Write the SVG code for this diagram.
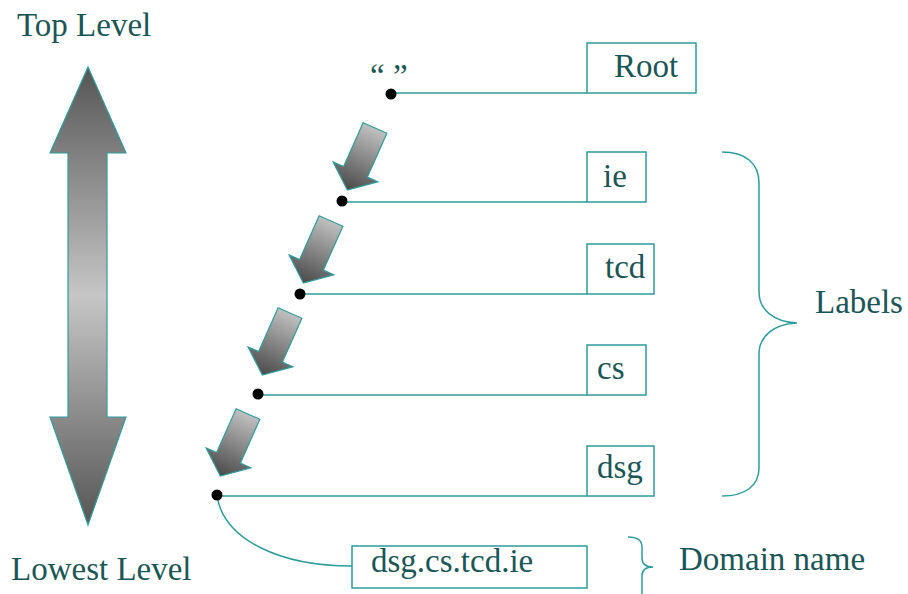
<svg xmlns="http://www.w3.org/2000/svg" width="908" height="594" viewBox="0 0 908 594">
<defs>
<linearGradient id="gBig" x1="0" y1="0" x2="0" y2="1">
<stop offset="0" stop-color="#555"/>
<stop offset="0.5" stop-color="#c6c6c6"/>
<stop offset="1" stop-color="#555"/>
</linearGradient>
<linearGradient id="gSmall" x1="0" y1="0" x2="0" y2="1">
<stop offset="0" stop-color="#c0c0c0"/>
<stop offset="1" stop-color="#4a4a4a"/>
</linearGradient>
<polygon id="sa" points="-13,0 13,0 13,48 24.5,48 0,68 -24.5,48 -13,48"/>
</defs>
<style>
text{font-family:"Liberation Serif","Times New Roman",serif;font-size:33px;fill:#1b5656}
.box{fill:#fff;stroke:#2f9c9c;stroke-width:1.5}
.ln{fill:none;stroke:#2f9c9c;stroke-width:1.5}
.dot{fill:#000}
.sarrow{fill:url(#gSmall);stroke:#2f9c9c;stroke-width:1.2}
</style>
<rect width="908" height="594" fill="#fff"/>

<g id="levels">
<text x="17" y="36">Top Level</text>
<text x="11" y="580">Lowest Level</text>
<polygon points="88,67 126,153 107,153 107,417 126,417 88,525 50,417 68,417 68,153 50,153" fill="url(#gBig)" stroke="#2f9c9c" stroke-width="1.2"/>
</g>

<g id="connectors">
<line class="ln" x1="391" y1="93" x2="587" y2="93"/>
<line class="ln" x1="342" y1="202" x2="587" y2="202"/>
<line class="ln" x1="300" y1="294" x2="587" y2="294"/>
<line class="ln" x1="258" y1="395" x2="587" y2="395"/>
<line class="ln" x1="217" y1="496" x2="587" y2="496"/>
<path class="ln" d="M217,496 C224,540 280,566 352,566"/>
<use href="#sa" class="sarrow" transform="translate(375,128) rotate(24)"/>
<use href="#sa" class="sarrow" transform="translate(331,221) rotate(24)"/>
<use href="#sa" class="sarrow" transform="translate(290,313) rotate(24)"/>
<use href="#sa" class="sarrow" transform="translate(248,414) rotate(24)"/>
<circle class="dot" cx="391" cy="94" r="5.5"/>
<circle class="dot" cx="342" cy="201" r="5.5"/>
<circle class="dot" cx="300" cy="294" r="5.5"/>
<circle class="dot" cx="258" cy="394" r="5.5"/>
<circle class="dot" cx="217" cy="495" r="5.5"/>
</g>

<g id="empty-root-label">
<text x="370" y="87">“ ”</text>
</g>
<g id="root">
<rect class="box" x="587" y="43" width="109" height="50"/>
<text x="614" y="77">Root</text>
</g>
<g id="ie">
<rect class="box" x="587" y="152" width="59" height="50"/>
<text x="603" y="187">ie</text>
</g>
<g id="tcd">
<rect class="box" x="587" y="244" width="67" height="50"/>
<text x="605" y="278">tcd</text>
</g>
<g id="cs">
<rect class="box" x="587" y="345" width="59" height="50"/>
<text x="597" y="379">cs</text>
</g>
<g id="dsg">
<rect class="box" x="587" y="446" width="67" height="50"/>
<text x="597" y="478">dsg</text>
</g>
<g id="domain">
<rect class="box" x="352" y="546" width="235" height="42"/>
<text x="371" y="572">dsg.cs.tcd.ie</text>
</g>
<g id="labels-brace">
<path class="ln" d="M722,152 C745,152 759,163 759,183 L759,292 C759,310 774,322 797,323 C774,324 759,336 759,354 L759,468 C759,486 745,496 722,496"/>
<text x="815" y="313">Labels</text>
</g>
<g id="domain-brace">
<path class="ln" d="M628,537 C637,537 642,540 642,547 L642,558 C642,564 646,567 653,567 C646,567 642,570 642,576 L642,600"/>
<text x="679" y="570">Domain name</text>
</g>
</svg>
